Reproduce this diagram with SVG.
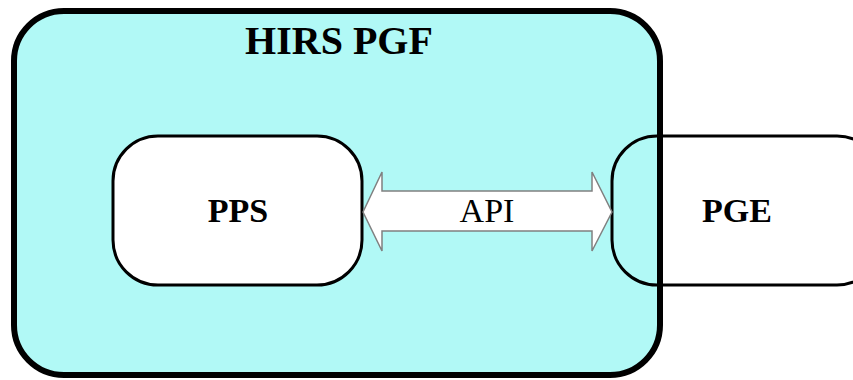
<svg xmlns="http://www.w3.org/2000/svg" width="853" height="380" viewBox="0 0 853 380">
<style>
.t{font-family:"Liberation Serif","Times New Roman",serif;fill:#000;text-anchor:middle}
.b{font-weight:bold}
.box{fill:#fff;stroke:#000;stroke-width:3}
</style>
<rect width="853" height="380" fill="#fff"/>
<g id="hirs-pgf">
<rect x="14" y="11" width="646" height="364" rx="50" ry="50" fill="#b1f9f6" stroke="none"/>
</g>
<g id="pps">
<rect class="box" x="113" y="136" width="249" height="149" rx="45" ry="45"/>
<text class="t b" x="238" y="222" font-size="34">PPS</text>
</g>
<g id="pge">
<rect x="612" y="136" width="270" height="149" rx="45" ry="45" fill="none" stroke="#000" stroke-width="3"/>
<text class="t b" x="737" y="222" font-size="34">PGE</text>
</g>
<g id="hirs-pgf-border">
<rect x="14" y="11" width="646" height="364" rx="50" ry="50" fill="none" stroke="#000" stroke-width="6"/>
<text class="t b" x="339" y="54" font-size="40">HIRS PGF</text>
</g>
<g id="connectors">
<path d="M363,212 L382,172 L382,191 L592,191 L592,172 L612,212 L592,251 L592,231 L382,231 L382,251 Z" fill="#fff" stroke="#808080" stroke-width="1.5"/>
<text class="t" x="487" y="222" font-size="34">API</text>
</g>
</svg>
